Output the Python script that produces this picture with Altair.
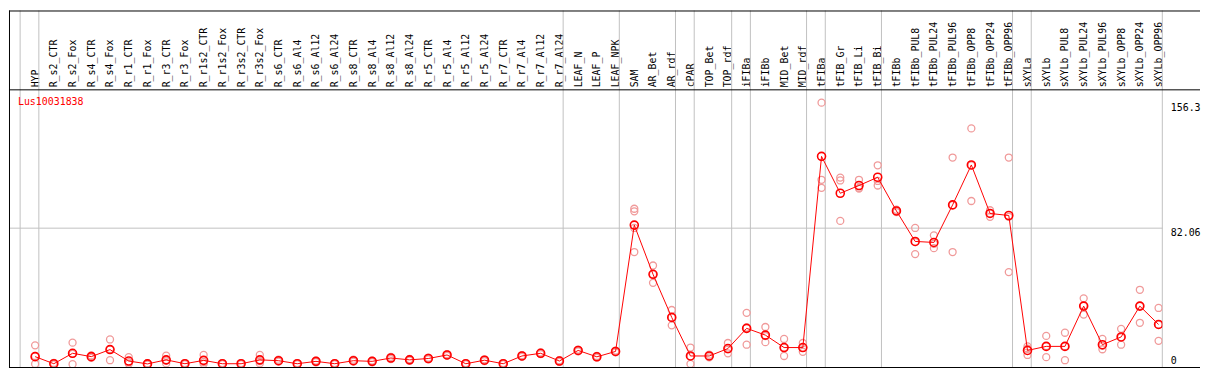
import altair as alt
import pandas as pd

GENE = "Lus10031838"

CATEGORIES = [
    "HYP", "R_s2_CTR", "R_s2_Fox", "R_s4_CTR", "R_s4_Fox", "R_r1_CTR", "R_r1_Fox",
    "R_r3_CTR", "R_r3_Fox", "R_r1s2_CTR", "R_r1s2_Fox", "R_r3s2_CTR", "R_r3s2_Fox",
    "R_s6_CTR", "R_s6_Al4", "R_s6_Al12", "R_s6_Al24", "R_s8_CTR", "R_s8_Al4",
    "R_s8_Al12", "R_s8_Al24", "R_r5_CTR", "R_r5_Al4", "R_r5_Al12", "R_r5_Al24",
    "R_r7_CTR", "R_r7_Al4", "R_r7_Al12", "R_r7_Al24", "LEAF_N", "LEAF_P", "LEAF_NPK",
    "SAM", "AR_Bet", "AR_rdf", "cPAR", "TOP_Bet", "TOP_rdf", "iFIBa", "iFIBb",
    "MID_Bet", "MID_rdf", "tFIBa", "tFIB_Gr", "tFIB_Li", "tFIB_Bi", "tFIBb",
    "tFIBb_PUL8", "tFIBb_PUL24", "tFIBb_PUL96", "tFIBb_OPP8", "tFIBb_OPP24",
    "tFIBb_OPP96", "sXYLa", "sXYLb", "sXYLb_PUL8", "sXYLb_PUL24", "sXYLb_PUL96",
    "sXYLb_OPP8", "sXYLb_OPP24", "sXYLb_OPP96",
]

MEANS = [
    5.3, 1.1, 7.3, 5.3, 9.5, 2.7, 1.0, 3.4, 1.1, 3.1, 1.1, 1.1, 3.4,
    2.9, 1.1, 2.5, 1.1, 2.9, 2.5, 4.5, 3.4, 4.2, 6.3, 1.1, 3.2, 1.1, 5.7, 7.3, 2.7,
    9.0, 5.2, 8.4,
    83.4, 54.2, 28.6, 5.7, 5.7, 10.1, 22.1, 18.1, 10.7, 10.7,
    124.2, 102.3, 106.9, 111.8, 91.8, 73.7, 73.1, 95.4, 119.1, 90.3, 89.1,
    9.0, 11.4, 11.4, 35.3, 12.4, 17.0, 35.3, 24.4,
]

REPLICATES = [
    [12.0, 5.7, 1.0], [1.6, 1.0, 0.7], [13.6, 7.0, 0.8], [6.0, 5.3, 4.6],
    [15.5, 9.8, 3.2], [5.0, 2.0, 1.1], [1.4, 1.0, 0.6], [5.9, 3.0, 1.3],
    [1.5, 1.0, 0.8], [6.3, 2.0, 1.0], [1.5, 1.0, 0.8], [1.5, 1.0, 0.8],
    [6.3, 2.6, 1.3], [3.5, 2.8, 2.4], [1.5, 1.0, 0.8], [3.0, 2.5, 2.0],
    [1.5, 1.0, 0.8], [3.5, 2.8, 2.4], [3.0, 2.5, 2.0], [5.2, 4.5, 3.8],
    [3.9, 3.4, 2.9], [4.7, 4.2, 3.7], [6.8, 6.3, 5.8], [1.5, 1.0, 0.8],
    [3.7, 3.2, 2.7], [1.5, 1.0, 0.8], [6.2, 5.7, 5.2], [7.8, 7.3, 6.8],
    [3.2, 2.7, 2.2], [9.5, 9.0, 8.5], [5.7, 5.2, 4.7], [8.9, 8.4, 7.9],
    [93.1, 91.6, 81.7, 67.4], [59.4, 54.2, 49.1], [33.0, 28.6, 23.9],
    [10.7, 5.5, 1.0], [6.5, 5.7, 4.9], [13.4, 9.6, 7.3], [31.3, 22.6, 12.4],
    [22.9, 17.5, 13.9], [15.8, 10.6, 5.7], [13.4, 10.5, 8.2],
    [156.1, 110.3, 105.5], [111.6, 109.9, 85.9], [110.3, 105.5, 105.1],
    [118.9, 109.6, 106.9], [92.5, 91.8, 91.1], [81.7, 73.3, 66.2],
    [77.3, 72.3, 69.7], [123.5, 95.3, 67.4], [140.8, 118.8, 97.7],
    [92.2, 90.4, 88.3], [123.5, 88.3, 55.5],
    [11.4, 10.0, 6.3], [17.6, 11.6, 5.0], [19.5, 11.5, 3.2], [39.9, 35.7, 30.3],
    [15.8, 11.7, 9.7], [21.8, 16.8, 12.4], [45.0, 35.5, 25.4], [34.2, 24.3, 14.7],
]

GROUP_ENDS = [-1, 0, 28, 31, 34, 35, 37, 38, 41, 42, 45, 52, 53, 60]
Y_TICKS = [0, 82.06, 156.3]

W, H, HEADER = 1163, 280, 80
X_MIN, X_MAX = -1.395, 60.2
Y_MIN, Y_MAX = -1.14, 163.7
MONO = "DejaVu Sans Mono"
RED = "#ff0000"
PINK = "#f09a9a"
GRAY = "#c0c0c0"

means_df = pd.DataFrame({"idx": list(range(len(CATEGORIES))), "name": CATEGORIES, "mean": MEANS})
reps_df = pd.DataFrame(
    [{"idx": i, "value": v} for i, vals in enumerate(REPLICATES) for v in vals]
)
sep_df = pd.DataFrame({"pos": [g + 0.2 for g in GROUP_ENDS]})
one = pd.DataFrame({"gene": [GENE]})

xs = alt.Scale(domain=[X_MIN, X_MAX], nice=False, zero=False)
ys = alt.Scale(domain=[Y_MIN, Y_MAX], nice=False, zero=False)

label_js = "[" + ",".join("'" + c + "'" for c in CATEGORIES) + "][datum.value]"
xaxis = alt.Axis(
    orient="top", values=list(range(len(CATEGORIES))), labelExpr=label_js,
    labelAngle=270, labelAlign="left", labelBaseline="middle", labelPadding=3,
    labelFont=MONO, labelFontSize=10, labelColor="black", labelOverlap=False,
    labelFlush=False, ticks=False, domain=False, grid=False, title=None,
)
yaxis = alt.Axis(
    orient="right", values=Y_TICKS, labelExpr="datum.value + ''",
    labelFont=MONO, labelFontSize=10, labelColor="black", labelPadding=8,
    labelFlush=False, labelOverlap=False,
    labelBaseline=alt.condition("datum.value == 0", alt.value("bottom"), alt.value("top")),
    ticks=False, domain=False, grid=True, gridColor=GRAY, gridWidth=1,
    gridOpacity=alt.condition("datum.value > 1 && datum.value < 100", alt.value(1), alt.value(0)),
    title=None,
)

separators = alt.Chart(sep_df).mark_rule(color=GRAY, strokeWidth=1).encode(
    x=alt.X("pos:Q", scale=xs, axis=xaxis),
    y=alt.value(-HEADER), y2=alt.value(H),
)

base_rule = alt.Chart(one).mark_rule(color="black", strokeWidth=1)
top_border = base_rule.encode(x=alt.value(0), x2=alt.value(W + 38), y=alt.value(-HEADER + 0.5))
plot_top = base_rule.encode(x=alt.value(0), x2=alt.value(W + 38), y=alt.value(0))
plot_bottom = base_rule.encode(x=alt.value(0), x2=alt.value(W + 38), y=alt.value(H))
left_border = base_rule.encode(x=alt.value(0.5), y=alt.value(-HEADER), y2=alt.value(H))

reps = alt.Chart(reps_df).mark_point(
    shape="circle", filled=False, color=PINK, size=50, strokeWidth=1.3, opacity=1, clip=True
).encode(
    x=alt.X("idx:Q", scale=xs, axis=xaxis),
    y=alt.Y("value:Q", scale=ys, axis=yaxis),
)

line = alt.Chart(means_df).mark_line(color=RED, strokeWidth=1, clip=True).encode(
    x=alt.X("idx:Q", scale=xs, axis=xaxis),
    y=alt.Y("mean:Q", scale=ys, axis=yaxis),
)

means = alt.Chart(means_df).mark_point(
    shape="circle", filled=False, color=RED, size=65, strokeWidth=1.6, opacity=1, clip=True
).encode(
    x=alt.X("idx:Q", scale=xs, axis=xaxis),
    y=alt.Y("mean:Q", scale=ys, axis=yaxis),
)

gene_label = alt.Chart(one).mark_text(
    align="left", baseline="middle", color=RED, font=MONO, fontSize=10
).encode(text="gene:N", x=alt.value(9), y=alt.value(12))

chart = alt.layer(
    separators, reps, line, means, top_border, plot_top, plot_bottom, left_border, gene_label
).properties(width=W, height=H, padding=0).configure_view(strokeWidth=0)

chart.save("out.html", embed_options={"renderer": "svg", "actions": False})
